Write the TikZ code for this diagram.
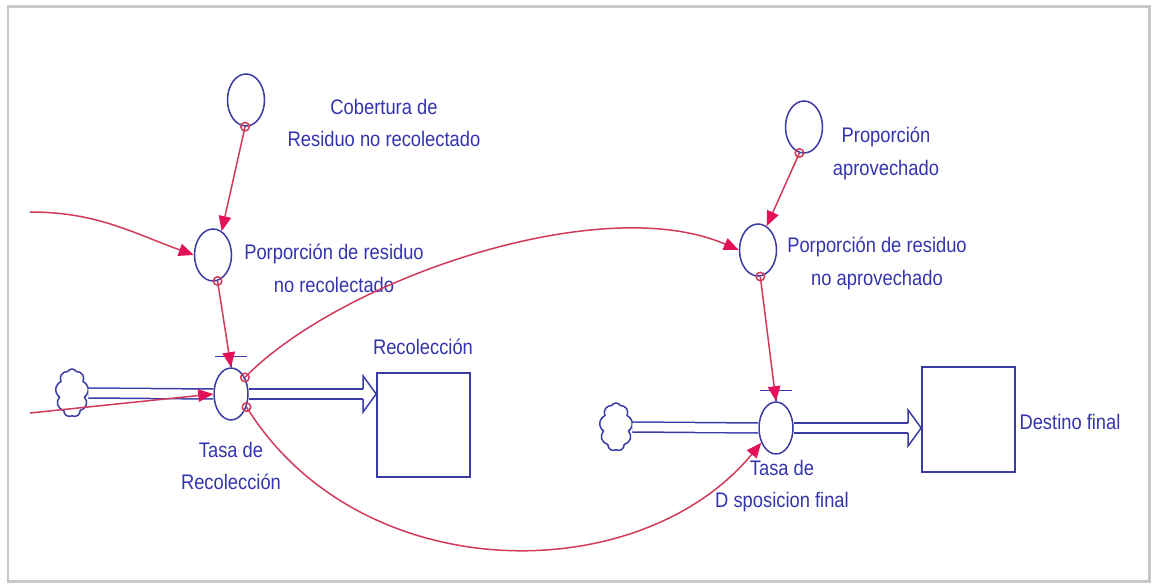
\documentclass[tikz,border=0pt]{standalone}
\usepackage{fontspec}
\setmainfont{Liberation Sans}[FakeStretch=0.87]
\usetikzlibrary{arrows.meta, shapes.geometric, shapes.symbols, calc}
\definecolor{flowblue}{HTML}{3B3BA6}
\definecolor{textblue}{HTML}{3434B0}
\definecolor{linkred}{HTML}{D23A5C}
\definecolor{tipred}{HTML}{E3115A}
\definecolor{framegray}{HTML}{C8C8C8}

\begin{document}
\begin{tikzpicture}[x=0.02cm, y=-0.02cm,
    aux/.style={ellipse, draw=flowblue, line width=0.3mm, minimum width=7.4mm, minimum height=10.4mm, inner sep=0},
    valve/.style={ellipse, draw=flowblue, line width=0.3mm, minimum width=6.8mm, minimum height=10.4mm, inner sep=0},
    stock/.style={rectangle, draw=flowblue, line width=0.35mm, minimum width=18.6mm, minimum height=20.8mm, inner sep=0},
    source/.style={cloud, cloud puffs=9, cloud puff arc=120, aspect=0.7, draw=flowblue, line width=0.3mm, minimum width=6.6mm, minimum height=9.6mm, inner sep=0},
    pipe/.style={draw=flowblue, double=white, double distance=1.7mm, line width=0.3mm},
    flowline/.style={draw=flowblue, line width=0.3mm, line join=miter},
    link/.style={draw=linkred, line width=0.3mm, -{Triangle[length=3mm, width=2.5mm, color=tipred]}},
    ring/.style={circle, draw=linkred, line width=0.3mm, minimum size=1.7mm, inner sep=0},
    lbl/.style={text=textblue, align=center, inner sep=0, font=\fontsize{12}{18.7}\selectfont}]

      % Page and frame
      \useasboundingbox[fill=white] (0,0) rectangle (1152,584);
      \draw[framegray, line width=0.6mm] (8,7) rectangle (1149,581);

      % Auxiliaries, valves, clouds and stocks
      \node[aux] (cob) at (246,100) {};
      \node[aux] (pnr) at (213,255) {};
      \node[valve] (tr) at (231,394) {};
      \node[source] (src1) at (72,393) {};
      \node[stock] (rec) at (423.5,425) {};
      \node[aux] (prop) at (804,127) {};
      \node[aux] (pna) at (758,250) {};
      \node[valve] (tdf) at (776,428) {};
      \node[source] (src2) at (616,427) {};
      \node[stock, minimum height=21mm] (dest) at (968.5,419.5) {};

      % Labels
      \node[lbl] (cobl) at (384,123) {Cobertura de\\Residuo no recolectado};
      \node[lbl] (pnrl) at (334,268) {Porporción de residuo\\no recolectado};
      \node[lbl] (recl) at (423,347) {Recolección};
      \node[lbl] (trl) at (231,466) {Tasa de\\Recolección};
      \node[lbl] (propl) at (886,153) {Proporción\\aprovechado};
      \node[lbl] (pnal) at (877,263) {Porporción de residuo\\no aprovechado};
      \node[lbl] (tdfl) at (782,486) {Tasa de\\D sposicion final};
      \node[lbl] (destl) at (1070,422) {Destino final};

      % Flow pipes into Recolección
      \draw[pipe] (src1.east) -- (tr.west);
      \coordinate (tip1) at (rec.west |- tr.center);
      \draw[pipe] (tr.east) -- ($(tip1)+(-13,0)$);
      \draw[flowline] ($(tip1)+(-13,-5)$) -- ++(0,-13) -- (tip1) -- ($(tip1)+(-13,18)$) -- ++(0,-13);
      \draw[flowline] ($(tr.north)+(-16,-11)$) -- ++(32,0);
      \draw[flowline] ($(tr.north)+(0,-11)$) -- (tr.north);

      % Flow pipes into Destino final
      \draw[pipe] (src2.east) -- (tdf.west);
      \coordinate (tip2) at (dest.west |- tdf.center);
      \draw[pipe] (tdf.east) -- ($(tip2)+(-13,0)$);
      \draw[flowline] ($(tip2)+(-13,-5)$) -- ++(0,-13) -- (tip2) -- ($(tip2)+(-13,18)$) -- ++(0,-13);
      \draw[flowline] ($(tdf.north)+(-16,-11)$) -- ++(32,0);
      \draw[flowline] ($(tdf.north)+(0,-11)$) -- (tdf.north);

      % Information links
      \coordinate (inA) at (30,212);
      \coordinate (inB) at (30,413);
      \draw[link] (cob.-92) -- (pnr.70);
      \draw[link] (inA) to[out=0, in=160] (pnr.west);
      \draw[link] (pnr.-80) -- (tr.north);
      \draw[link] (inB) -- (tr.west);
      \draw[link] (tr.50) .. controls (340,280) and (600,190) .. (pna.west);
      \draw[link] (tr.-40) .. controls (360,590) and (640,590) .. (tdf.-135);
      \draw[link] (prop.-100) -- (pna.70);
      \draw[link] (pna.-85) -- (tdf.north);

      % Link start rings
      \node[ring] (r1) at (cob.-92) {};
      \node[ring] (r2) at (pnr.-80) {};
      \node[ring] (r3) at (tr.50) {};
      \node[ring] (r4) at (tr.-40) {};
      \node[ring] (r5) at (prop.-100) {};
      \node[ring] (r6) at (pna.-85) {};
    \end{tikzpicture}
\end{document}
